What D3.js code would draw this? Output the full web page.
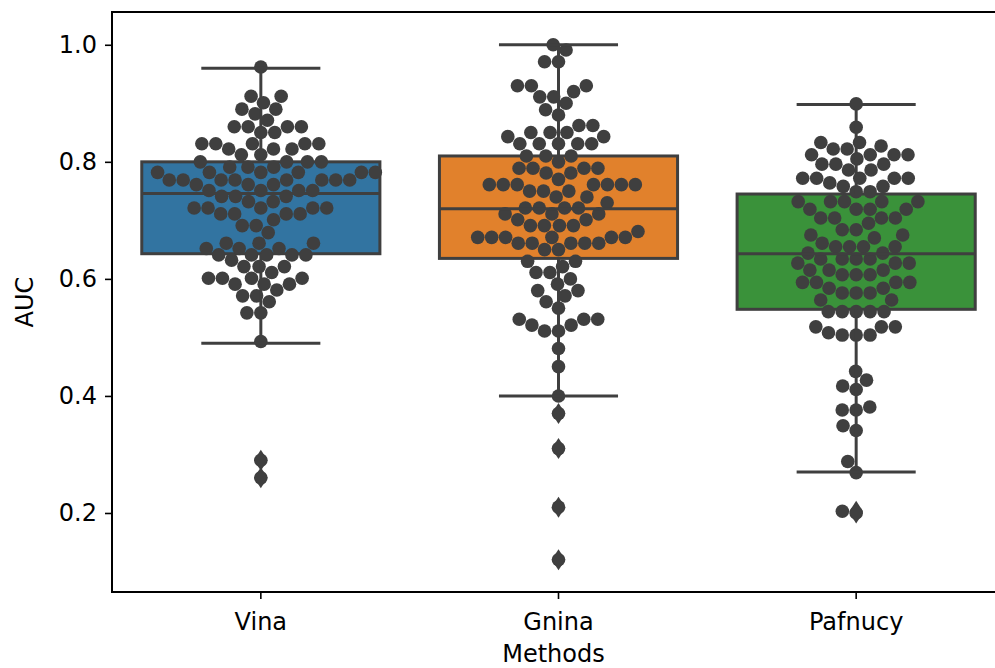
<!DOCTYPE html>
<html>
<head>
<meta charset="utf-8">
<script src="https://cdn.jsdelivr.net/npm/d3@7"></script>
<style>
  html, body { margin: 0; padding: 0; background: #fff; }
  svg { display: block; font-family: "DejaVu Sans", sans-serif; }
</style>
</head>
<body>
<div id="chart"></div>
<script>
// Categories and colours
const methods = ['Vina', 'Gnina', 'Pafnucy'];
const boxColors = ['#3274a1', '#e1812c', '#3a923a'];

// Per-target AUC values (value, repeat count)
const vinaRows = [
  [0.962, 1], [0.912, 2], [0.901, 1], [0.890, 2], [0.882, 1], [0.871, 1], [0.860, 4], [0.850, 2],
  [0.831, 5], [0.822, 3], [0.812, 2], [0.800, 4], [0.791, 3], [0.782, 6], [0.769, 8], [0.761, 3],
  [0.751, 4], [0.741, 3], [0.732, 2], [0.721, 5], [0.711, 4], [0.701, 1], [0.691, 2], [0.679, 1],
  [0.661, 3], [0.652, 3], [0.641, 5], [0.632, 1], [0.621, 3], [0.611, 1], [0.601, 4], [0.591, 3],
  [0.581, 1], [0.571, 2], [0.561, 1], [0.542, 2], [0.493, 1], [0.290, 1], [0.260, 1]
];
const gninaRows = [
  [1.000, 1], [0.991, 1], [0.971, 2], [0.930, 3], [0.920, 1], [0.911, 2], [0.900, 1], [0.889, 1],
  [0.880, 1], [0.862, 2], [0.850, 3], [0.843, 2], [0.831, 5], [0.810, 3], [0.800, 1], [0.789, 4],
  [0.781, 2], [0.770, 1], [0.761, 7], [0.750, 3], [0.740, 2], [0.730, 1], [0.721, 4], [0.711, 3],
  [0.701, 2], [0.691, 4], [0.681, 1], [0.671, 6], [0.661, 5], [0.650, 2], [0.630, 2], [0.621, 1],
  [0.611, 2], [0.600, 1], [0.591, 1], [0.580, 2], [0.571, 1], [0.561, 1], [0.550, 1], [0.531, 3],
  [0.521, 2], [0.511, 2], [0.481, 1], [0.450, 1], [0.400, 1], [0.370, 1], [0.310, 1], [0.210, 1],
  [0.120, 1]
];
const pafnucyRows = [
  [0.899, 1], [0.859, 1], [0.833, 2], [0.827, 1], [0.822, 2], [0.812, 4], [0.805, 1], [0.796, 3],
  [0.786, 2], [0.772, 5], [0.764, 1], [0.758, 2], [0.749, 2], [0.732, 5], [0.719, 4], [0.704, 4],
  [0.695, 1], [0.684, 2], [0.675, 2], [0.670, 1], [0.661, 1], [0.655, 4], [0.644, 2], [0.634, 4],
  [0.627, 3], [0.615, 3], [0.607, 3], [0.594, 4], [0.584, 2], [0.576, 3], [0.564, 2], [0.544, 5],
  [0.518, 3], [0.508, 1], [0.504, 3], [0.442, 1], [0.427, 1], [0.417, 1], [0.411, 1], [0.381, 1],
  [0.376, 2], [0.349, 1], [0.341, 1], [0.288, 1], [0.269, 1], [0.203, 1], [0.200, 1]
];

// Box statistics as drawn: [whiskerLow, q1, median, q3, whiskerHigh]
const boxStats = [
  [0.490, 0.643, 0.746, 0.800, 0.960],
  [0.400, 0.635, 0.720, 0.810, 1.000],
  [0.270, 0.548, 0.643, 0.745, 0.898]
];
// Outliers beyond whiskers
const fliers = [
  [0.290, 0.260],
  [0.370, 0.310, 0.210, 0.120],
  [0.203, 0.200]
];

const yTicks = [0.2, 0.4, 0.6, 0.8, 1.0];

const expand = rows => rows.flatMap(([v, n]) => d3.range(n).map(() => v));
const values = [vinaRows, gninaRows, pafnucyRows].map(expand);

// Layout
const W = 995, H = 668;
const margin = { top: 12, left: 112, bottom: 76 };
const plotRight = 1005; // axes run past the cropped right edge
const gray = '#3f3f3f';
const fontSize = 24;

const svg = d3.select('#chart').append('svg')
  .attr('width', W).attr('height', H);

const x = d3.scaleBand().domain(methods).range([margin.left, plotRight]).padding(0);
const y = d3.scaleLinear().domain([0.065, 1.056]).range([H - margin.bottom, margin.top]);

const bw = x.bandwidth();
const boxW = bw * 0.8;
const r = 6.8;

// Beeswarm: place points from lowest up, nearest free slot to the centre
function swarm(vals, cx) {
  const d = r * 2.05;
  const pts = vals.map(v => ({ v, py: y(v) })).sort((a, b) => a.v - b.v);
  const placed = [];
  pts.forEach(p => {
    const near = placed.filter(q => Math.abs(q.py - p.py) < d);
    const cands = [0];
    near.forEach(q => {
      const dx = Math.sqrt(d * d - (q.py - p.py) ** 2);
      cands.push(q.dx - dx, q.dx + dx);
    });
    cands.sort((a, b) => Math.abs(a) - Math.abs(b));
    for (const c of cands) {
      if (near.every(q => (q.dx - c) ** 2 + (q.py - p.py) ** 2 >= d * d - 1e-6)) {
        p.dx = c;
        break;
      }
    }
    placed.push(p);
  });
  return placed.map(p => ({ cx: cx + p.dx, cy: p.py }));
}

const g = svg.append('g');

// Box bodies (below the dots)
methods.forEach((m, i) => {
  const cx = x(m) + bw / 2;
  const [lo, q1, med, q3, hi] = boxStats[i];
  g.append('rect')
    .attr('x', cx - boxW / 2)
    .attr('y', y(q3))
    .attr('width', boxW)
    .attr('height', y(q1) - y(q3))
    .attr('fill', boxColors[i])
    .attr('stroke', gray)
    .attr('stroke-width', 3);
});

// Swarm dots
methods.forEach((m, i) => {
  const cx = x(m) + bw / 2;
  g.append('g').selectAll('circle')
    .data(swarm(values[i], cx))
    .join('circle')
    .attr('cx', d => d.cx)
    .attr('cy', d => d.cy)
    .attr('r', r)
    .attr('fill', gray);
});

// Whiskers, caps, medians and fliers (on top)
methods.forEach((m, i) => {
  const cx = x(m) + bw / 2;
  const [lo, q1, med, q3, hi] = boxStats[i];
  const line = (x1, y1, x2, y2) => g.append('line')
    .attr('x1', x1).attr('y1', y1).attr('x2', x2).attr('y2', y2)
    .attr('stroke', gray).attr('stroke-width', 3);

  line(cx, y(q1), cx, y(lo));
  line(cx, y(q3), cx, y(hi));
  line(cx - boxW / 4, y(lo), cx + boxW / 4, y(lo));
  line(cx - boxW / 4, y(hi), cx + boxW / 4, y(hi));
  line(cx - boxW / 2, y(med), cx + boxW / 2, y(med));

  g.append('g').selectAll('path')
    .data(fliers[i])
    .join('path')
    .attr('d', 'M0,-10.5 L6.8,0 L0,10.5 L-6.8,0 Z')
    .attr('transform', v => `translate(${cx},${y(v)})`)
    .attr('fill', gray);
});

// Axes
const yAxis = d3.axisLeft(y).tickValues(yTicks).tickFormat(d3.format('.1f')).tickSize(7).tickPadding(8);
const xAxis = d3.axisBottom(x).tickSize(7).tickPadding(14);

const ya = svg.append('g').attr('transform', `translate(${margin.left},0)`).call(yAxis);
const xa = svg.append('g').attr('transform', `translate(0,${H - margin.bottom})`).call(xAxis);

[ya, xa].forEach(a => {
  a.select('.domain').remove();
  a.selectAll('line').attr('stroke', '#000').attr('stroke-width', 1.6);
  a.selectAll('text').attr('font-size', fontSize).attr('fill', '#000')
    .attr('font-family', '"DejaVu Sans", sans-serif');
});

// Frame
svg.append('rect')
  .attr('x', margin.left).attr('y', margin.top)
  .attr('width', plotRight - margin.left)
  .attr('height', H - margin.bottom - margin.top)
  .attr('fill', 'none').attr('stroke', '#000').attr('stroke-width', 2);

// Axis titles
svg.append('text')
  .attr('x', (margin.left + plotRight) / 2 - 5)
  .attr('y', 662)
  .attr('text-anchor', 'middle')
  .attr('font-size', fontSize)
  .text('Methods');

svg.append('text')
  .attr('transform', `translate(33,${(margin.top + H - margin.bottom) / 2}) rotate(-90)`)
  .attr('text-anchor', 'middle')
  .attr('font-size', fontSize)
  .text('AUC');
</script>
</body>
</html>
